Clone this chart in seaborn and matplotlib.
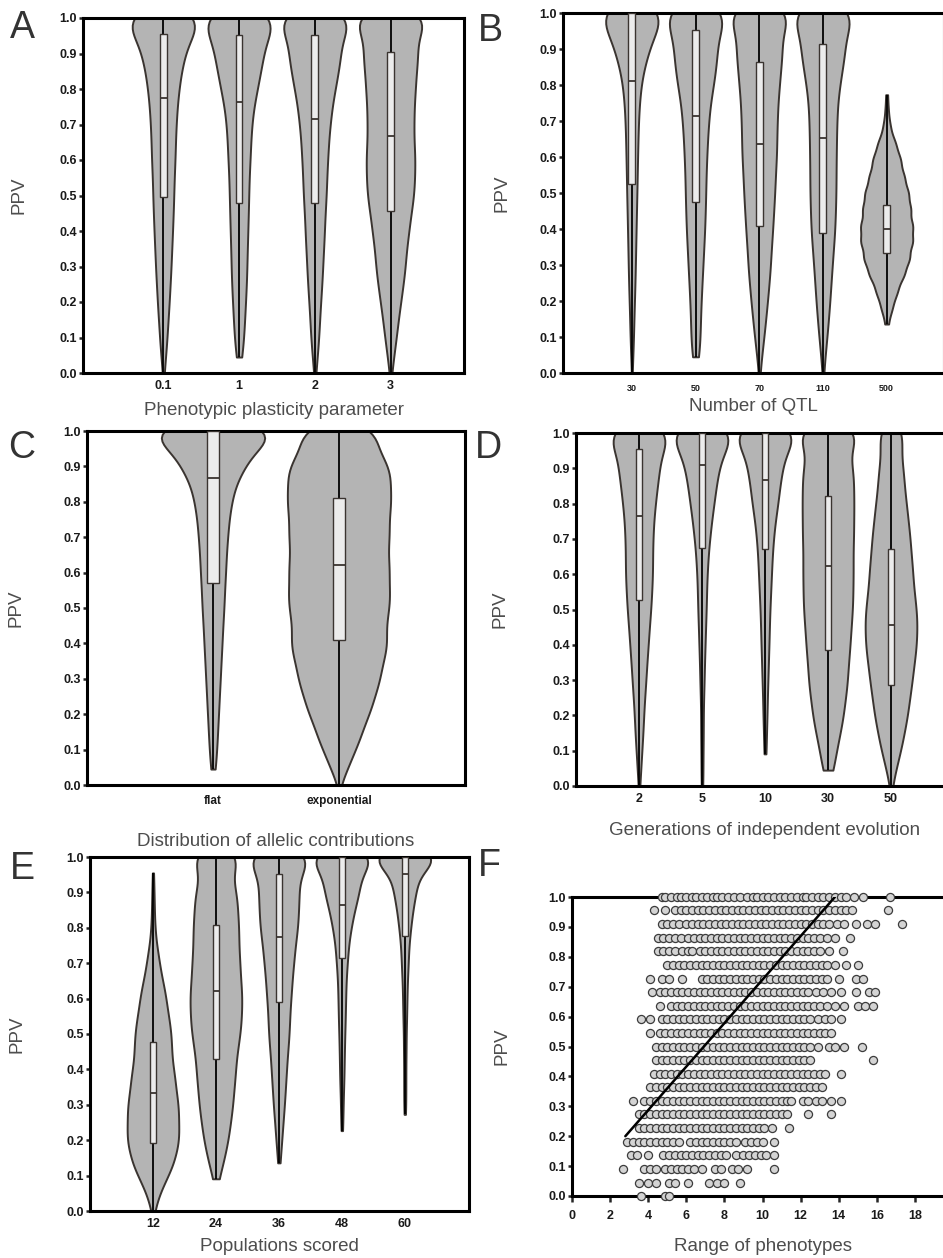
import matplotlib

matplotlib.use('Agg')
import matplotlib.pyplot as plt
import numpy as np
import pandas as pd
import seaborn as sns

FIG_W, FIG_H = 943, 1258

# PPV takes values k/22 (k = 0..22); counts below are read per level, bottom to top
PPV_LEVELS = [0.000, 0.045, 0.091, 0.136, 0.182, 0.227, 0.273, 0.318, 0.364, 0.409, 0.455, 0.500,
              0.545, 0.591, 0.636, 0.682, 0.727, 0.773, 0.818, 0.864, 0.909, 0.955, 1.000]
PPV_TICKS = [0.0, 0.1, 0.2, 0.3, 0.4, 0.5, 0.6, 0.7, 0.8, 0.9, 1.0]

# A - phenotypic plasticity
plasticity_groups = ['0.1', '1', '2', '3']
plasticity_counts = [
    [2, 7, 11, 13, 17, 19, 22, 24, 26, 28, 30, 31, 32, 35, 36, 37, 40, 43, 49, 56, 68, 79, 156],
    [0, 10, 14, 17, 19, 22, 24, 25, 26, 28, 29, 30, 31, 34, 36, 38, 42, 50, 62, 70, 80, 83, 156],
    [3, 8, 12, 15, 17, 21, 24, 26, 29, 31, 33, 36, 38, 40, 43, 46, 52, 58, 69, 78, 85, 81, 155],
    [3, 10, 16, 22, 28, 35, 42, 46, 50, 57, 63, 70, 73, 75, 72, 70, 71, 73, 76, 80, 85, 75, 143],
]
plasticity_q1 = [0.495, 0.478, 0.478, 0.455]
plasticity_median = [0.775, 0.763, 0.715, 0.668]
plasticity_q3 = [0.955, 0.953, 0.953, 0.905]

# B - number of QTL
qtl_groups = ['30', '50', '70', '110', '500']
qtl_counts = [
    [1, 3, 5, 6, 7, 9, 10, 11, 12, 13, 14, 15, 16, 17, 18, 19, 21, 24, 29, 40, 57, 65, 136],
    [0, 12, 14, 15, 16, 19, 21, 24, 26, 29, 30, 31, 32, 34, 36, 39, 42, 49, 59, 65, 68, 66, 131],
    [2, 8, 14, 20, 25, 30, 35, 38, 41, 45, 48, 50, 53, 56, 58, 58, 60, 63, 68, 73, 78, 68, 134],
    [2, 7, 12, 17, 21, 25, 28, 32, 36, 40, 41, 42, 43, 43, 44, 45, 46, 50, 58, 68, 75, 70, 136],
    [0, 0, 0, 5, 17, 32, 52, 68, 77, 77, 71, 64, 52, 42, 27, 11, 5, 3, 0, 0, 0, 0, 0],
]
qtl_q1 = [0.525, 0.476, 0.408, 0.390, 0.332]
qtl_median = [0.810, 0.714, 0.636, 0.652, 0.399]
qtl_q3 = [1.000, 0.954, 0.864, 0.914, 0.467]

# C - distribution of allelic contributions
allelic_groups = ['flat', 'exponential']
allelic_counts = [
    [0, 8, 11, 14, 16, 19, 21, 24, 26, 29, 31, 34, 36, 39, 41, 44, 48, 53, 62, 75, 110, 128, 262],
    [3, 25, 44, 64, 80, 99, 113, 124, 135, 143, 138, 146, 150, 148, 146, 146, 148, 150, 153, 153, 143, 110, 115],
]
allelic_q1 = [0.572, 0.411]
allelic_median = [0.866, 0.621]
allelic_q3 = [1.000, 0.811]

# D - generations of independent evolution
generation_groups = ['2', '5', '10', '30', '50']
generation_counts = [
    [2, 6, 8, 12, 14, 16, 20, 23, 26, 30, 33, 37, 40, 43, 43, 43, 45, 48, 54, 60, 67, 67, 131],
    [3, 3, 3, 4, 4, 4, 6, 7, 8, 10, 11, 13, 14, 15, 18, 21, 27, 32, 40, 45, 55, 64, 131],
    [0, 0, 4, 4, 6, 7, 8, 10, 11, 13, 14, 15, 18, 20, 22, 25, 29, 36, 44, 48, 58, 64, 133],
    [0, 17, 22, 32, 42, 47, 54, 57, 60, 64, 67, 69, 72, 72, 72, 72, 74, 74, 74, 74, 72, 50, 120],
    [3, 14, 26, 36, 45, 52, 58, 64, 70, 75, 77, 73, 68, 64, 61, 57, 53, 48, 42, 38, 35, 25, 45],
]
generation_q1 = [0.526, 0.675, 0.670, 0.384, 0.287]
generation_median = [0.764, 0.910, 0.868, 0.622, 0.455]
generation_q3 = [0.956, 1.000, 1.000, 0.822, 0.670]

# E - populations scored
population_groups = ['12', '24', '36', '48', '60']
population_counts = [
    [4, 18, 40, 62, 74, 77, 76, 72, 66, 59, 55, 53, 47, 40, 32, 22, 15, 8, 5, 4, 3, 2, 0],
    [0, 0, 8, 22, 32, 40, 46, 51, 55, 58, 63, 70, 75, 77, 74, 71, 68, 67, 66, 63, 60, 39, 87],
    [0, 0, 0, 4, 8, 12, 16, 20, 23, 26, 30, 34, 36, 39, 43, 47, 52, 58, 65, 66, 68, 66, 131],
    [0, 0, 0, 0, 0, 3, 4, 5, 7, 8, 9, 10, 12, 13, 14, 17, 21, 26, 36, 48, 63, 66, 131],
    [0, 0, 0, 0, 0, 0, 3, 4, 4, 4, 5, 5, 7, 8, 9, 12, 14, 18, 25, 33, 44, 55, 150],
]
population_q1 = [0.191, 0.429, 0.591, 0.716, 0.776]
population_median = [0.333, 0.621, 0.774, 0.865, 0.953]
population_q3 = [0.478, 0.809, 0.953, 1.000, 1.000]

# F - range of phenotypes vs PPV, one list of x values per PPV row
range_ppv = [1.000, 0.955, 0.909, 0.864, 0.818, 0.773, 0.727, 0.682, 0.636, 0.591, 0.545, 0.500,
             0.455, 0.409, 0.364, 0.318, 0.273, 0.227, 0.182, 0.136, 0.091, 0.045, 0.000]
range_rows = [
    [4.7, 4.9, 5.2, 5.5, 5.7, 6.0, 6.3, 6.5, 6.8, 7.1, 7.4, 7.6, 7.9, 8.2, 8.5, 8.8, 9.2, 9.5, 9.7, 10.0,
     10.3, 10.6, 10.9, 11.2, 11.5, 11.8, 12.1, 12.3, 12.6, 12.9, 13.2, 13.5, 13.8, 14.1, 14.4, 14.8, 15.3, 16.7],
    [4.3, 4.9, 5.4, 5.7, 6.0, 6.3, 6.6, 6.9, 7.2, 7.5, 7.8, 8.1, 8.4, 8.7, 9.0, 9.3, 9.6, 9.9, 10.2, 10.5,
     10.8, 11.1, 11.4, 11.7, 12.0, 12.3, 12.6, 12.9, 13.2, 13.5, 13.8, 14.1, 14.4, 14.7, 16.6],
    [4.7, 5.0, 5.3, 5.6, 6.0, 6.3, 6.6, 6.9, 7.2, 7.5, 7.8, 8.1, 8.4, 8.7, 9.0, 9.3, 9.6, 9.9, 10.2, 10.5,
     10.8, 11.1, 11.4, 11.7, 12.0, 12.3, 12.6, 12.9, 13.2, 13.5, 13.9, 14.3, 14.9, 15.5, 15.9, 17.3],
    [4.5, 4.8, 5.1, 5.4, 5.7, 6.1, 6.4, 6.7, 7.0, 7.3, 7.6, 7.9, 8.2, 8.5, 8.8, 9.1, 9.4, 9.7, 10.0, 10.3,
     10.6, 10.9, 11.2, 11.5, 11.8, 12.1, 12.4, 12.7, 13.0, 13.4, 13.8, 14.6],
    [4.5, 4.8, 5.1, 5.4, 5.8, 6.1, 6.3, 6.7, 7.0, 7.3, 7.6, 7.9, 8.2, 8.5, 8.8, 9.1, 9.4, 9.7, 10.0, 10.3,
     10.6, 10.9, 11.2, 11.5, 11.8, 12.1, 12.4, 12.7, 13.0, 13.5, 14.2],
    [5.0, 5.3, 5.6, 5.9, 6.2, 6.5, 6.8, 7.1, 7.4, 7.7, 8.0, 8.3, 8.6, 8.9, 9.2, 9.5, 9.8, 10.1, 10.4, 10.7,
     11.0, 11.3, 11.6, 11.9, 12.2, 12.5, 12.8, 13.1, 13.4, 13.8, 14.4, 15.0],
    [4.1, 4.7, 5.1, 5.8, 6.8, 7.1, 7.4, 7.7, 8.0, 8.3, 8.6, 8.9, 9.2, 9.5, 9.8, 10.1, 10.4, 10.7, 11.0, 11.3,
     11.6, 11.9, 12.2, 12.5, 12.8, 13.1, 13.4, 14.0, 14.9, 15.3],
    [4.2, 4.6, 4.9, 5.2, 5.5, 5.8, 6.1, 6.4, 6.7, 7.0, 7.3, 7.6, 7.9, 8.2, 8.5, 8.8, 9.1, 9.4, 9.7, 10.0,
     10.3, 10.6, 10.9, 11.2, 11.5, 11.8, 12.1, 12.4, 12.8, 13.2, 13.6, 14.1, 14.9, 15.6, 15.9],
    [4.6, 5.2, 5.5, 5.8, 6.1, 6.4, 6.7, 7.0, 7.3, 7.6, 7.9, 8.2, 8.5, 8.8, 9.1, 9.4, 9.7, 10.0, 10.3, 10.6,
     10.9, 11.2, 11.5, 11.8, 12.1, 12.4, 12.7, 13.0, 13.4, 13.8, 14.3, 15.0, 15.4, 15.8],
    [3.6, 4.1, 4.7, 5.0, 5.3, 5.6, 5.9, 6.2, 6.5, 6.8, 7.1, 7.4, 7.7, 8.0, 8.3, 8.6, 8.9, 9.2, 9.5, 9.8,
     10.1, 10.4, 10.7, 11.0, 11.3, 11.6, 11.9, 12.2, 12.5, 12.9, 13.3, 13.6, 14.1],
    [4.1, 4.6, 4.9, 5.2, 5.5, 5.8, 6.1, 6.4, 6.7, 7.0, 7.3, 7.6, 7.9, 8.2, 8.5, 8.8, 9.1, 9.4, 9.7, 10.0,
     10.3, 10.6, 10.9, 11.2, 11.5, 11.8, 12.1, 12.4, 12.7, 13.0, 13.3, 13.6],
    [4.4, 4.7, 5.0, 5.3, 5.6, 5.9, 6.2, 6.5, 6.8, 7.1, 7.4, 7.7, 8.0, 8.3, 8.6, 8.9, 9.2, 9.5, 9.8, 10.1,
     10.4, 10.7, 11.0, 11.3, 11.6, 11.9, 12.2, 12.5, 12.9, 13.5, 13.8, 14.3, 15.2],
    [4.4, 4.7, 5.0, 5.3, 5.6, 5.9, 6.2, 6.5, 6.8, 7.1, 7.4, 7.7, 8.0, 8.3, 8.6, 8.9, 9.2, 9.5, 9.8, 10.1,
     10.4, 10.7, 11.0, 11.3, 11.6, 11.9, 12.2, 12.5, 15.8],
    [4.3, 4.6, 4.9, 5.2, 5.5, 5.8, 6.1, 6.4, 6.7, 7.0, 7.3, 7.6, 7.9, 8.2, 8.5, 8.8, 9.1, 9.4, 9.7, 10.0,
     10.3, 10.6, 10.9, 11.2, 11.5, 11.8, 12.1, 12.4, 12.7, 13.0, 13.3, 14.1],
    [4.1, 4.4, 4.7, 5.0, 5.3, 5.6, 5.9, 6.2, 6.5, 6.8, 7.1, 7.4, 7.7, 8.0, 8.3, 8.6, 8.9, 9.2, 9.5, 9.8,
     10.1, 10.4, 10.7, 11.0, 11.3, 11.6, 11.9, 12.2, 12.5, 12.8, 13.1],
    [3.2, 3.8, 4.1, 4.4, 4.7, 5.0, 5.3, 5.6, 5.9, 6.2, 6.5, 6.8, 7.1, 7.4, 7.7, 8.0, 8.3, 8.6, 8.9, 9.2,
     9.5, 9.8, 10.1, 10.4, 10.7, 11.0, 11.3, 11.5, 12.1, 12.4, 12.8, 13.1, 13.6, 14.1],
    [3.5, 3.8, 4.1, 4.4, 4.7, 5.0, 5.3, 5.6, 5.9, 6.2, 6.5, 6.8, 7.1, 7.4, 7.7, 8.0, 8.3, 8.6, 8.9, 9.2,
     9.5, 9.8, 10.1, 10.4, 10.7, 11.0, 11.3, 12.4, 13.6],
    [3.5, 3.8, 4.1, 4.4, 4.7, 5.0, 5.3, 5.6, 5.9, 6.2, 6.5, 6.8, 7.1, 7.4, 7.7, 8.0, 8.3, 8.6, 8.9, 9.2,
     9.5, 9.8, 10.1, 10.5, 11.4],
    [2.9, 3.2, 3.5, 3.8, 4.1, 4.4, 4.7, 5.0, 5.3, 5.6, 6.2, 6.5, 6.8, 7.1, 7.4, 7.7, 8.0, 8.3, 8.6, 9.1,
     9.4, 9.7, 10.0, 10.6],
    [3.1, 3.4, 4.0, 4.8, 5.1, 5.4, 5.7, 6.0, 6.3, 6.6, 6.9, 7.2, 7.5, 7.8, 8.1, 8.6, 9.0, 9.3, 9.6, 9.9,
     10.2, 10.6],
    [2.7, 3.8, 4.1, 4.4, 4.9, 5.2, 5.5, 5.8, 6.1, 6.4, 6.8, 7.5, 7.8, 8.4, 8.7, 9.2, 10.6],
    [3.5, 4.0, 4.4, 5.1, 5.4, 6.1, 7.2, 7.6, 8.0, 8.8],
    [3.6, 4.9, 5.1],
]
fit_range = [2.8, 13.8]
fit_ppv = [0.20, 1.00]

VIOLIN_FILL = '#b4b4b4'
EDGE = '#3a3430'
BOX_FILL = '#ececec'
LABEL_COLOR = '#4d4d4d'


def expand(groups, counts):
    frames = [pd.DataFrame({'group': g, 'ppv': np.repeat(PPV_LEVELS, c)}) for g, c in zip(groups, counts)]
    return pd.concat(frames, ignore_index=True)


def px_axes(fig, left, top, right, bottom):
    return fig.add_axes([left / FIG_W, 1 - bottom / FIG_H, (right - left) / FIG_W, (bottom - top) / FIG_H])


def style_axes(ax, width_px, height_px, xlabel, ylab_dx, xlab_dy):
    for spine in ax.spines.values():
        spine.set_visible(True)
        spine.set_linewidth(2.2)
        spine.set_color('black')
    ax.set_ylim(0, 1)
    ax.set_yticks(PPV_TICKS)
    ax.set_yticklabels([f'{t:.1f}' for t in PPV_TICKS], fontweight='bold', fontsize=9, color='#1a1a1a')
    ax.tick_params(axis='y', length=3, width=1.8, pad=1.5, direction='out')
    ax.set_ylabel('PPV', fontsize=13.5, color=LABEL_COLOR)
    ax.yaxis.set_label_coords(-ylab_dx / width_px, 0.5)
    ax.set_xlabel(xlabel, fontsize=13.5, color=LABEL_COLOR)
    ax.xaxis.set_label_coords(0.5, -xlab_dy / height_px)


def draw_violins(ax, groups, counts, q1, med, q3, box_w, xlim, tick_size, tick_pad):
    df = expand(groups, counts)
    sns.violinplot(data=df, x='group', y='ppv', order=groups, color=VIOLIN_FILL, saturation=1,
                   inner=None, cut=0, width=0.82, density_norm='width', bw_adjust=0.65,
                   linewidth=1.4, linecolor=EDGE, ax=ax)
    stats = df.groupby('group')['ppv'].agg(['min', 'max']).reindex(groups)
    pos = np.arange(len(groups))
    ax.vlines(pos, stats['min'], stats['max'], color='black', lw=1.3, zorder=3)
    ax.bar(pos, np.subtract(q3, q1), bottom=q1, width=box_w, color=BOX_FILL,
           edgecolor=EDGE, linewidth=1.0, zorder=4)
    ax.hlines(med, pos - box_w / 2, pos + box_w / 2, color=EDGE, lw=1.3, zorder=5)
    ax.set_xlim(*xlim)
    ax.set_xticks(pos)
    ax.set_xticklabels(groups, fontweight='bold', fontsize=tick_size, color='#1a1a1a')
    ax.tick_params(axis='x', length=0, pad=tick_pad)


sns.set_style('ticks')
plt.rcParams['font.family'] = ['Liberation Sans', 'DejaVu Sans']

fig = plt.figure(figsize=(FIG_W / 100, FIG_H / 100), dpi=100)

# A
ax = px_axes(fig, 83, 18, 464, 373)
draw_violins(ax, plasticity_groups, plasticity_counts, plasticity_q1, plasticity_median, plasticity_q3,
             0.09, (-1.06, 3.97), 9, 5)
style_axes(ax, 381, 355, 'Phenotypic plasticity parameter', 55, 29)

# B
ax = px_axes(fig, 563, 13, 944, 373)
draw_violins(ax, qtl_groups, qtl_counts, qtl_q1, qtl_median, qtl_q3,
             0.11, (-1.08, 4.9), 6.5, 8)
style_axes(ax, 381, 360, 'Number of QTL', 53, 25)

# C
ax = px_axes(fig, 87, 431, 465, 785)
draw_violins(ax, allelic_groups, allelic_counts, allelic_q1, allelic_median, allelic_q3,
             0.095, (-1.0, 2.0), 8.5, 7)
style_axes(ax, 378, 354, 'Distribution of allelic contributions', 62, 48)

# D
ax = px_axes(fig, 576, 433, 954, 786)
draw_violins(ax, generation_groups, generation_counts, generation_q1, generation_median, generation_q3,
             0.1, (-1.0, 5.0), 9, 5)
style_axes(ax, 378, 353, 'Generations of independent evolution', 67, 36)

# E
ax = px_axes(fig, 90, 857, 469, 1211)
draw_violins(ax, population_groups, population_counts, population_q1, population_median, population_q3,
             0.1, (-1.0, 5.02), 9, 5)
style_axes(ax, 379, 354, 'Populations scored', 65, 27)

# F
ax = px_axes(fig, 572, 897, 953, 1196)
scatter_df = pd.DataFrame({
    'range': np.concatenate(range_rows),
    'ppv': np.repeat(range_ppv, [len(r) for r in range_rows]),
})
sns.scatterplot(data=scatter_df, x='range', y='ppv', s=34, color='#d4d4d4', edgecolor='#3c3c3c',
                linewidth=0.9, clip_on=False, zorder=3, ax=ax)
ax.plot(fit_range, fit_ppv, color='black', lw=1.8, zorder=4)
ax.set_xlim(0, 20)
ax.set_xticks([0, 2, 4, 6, 8, 10, 12, 14, 16, 18])
ax.set_xticklabels(['0', '2', '4', '6', '8', '10', '12', '14', '16', '18'],
                   fontweight='bold', fontsize=9, color='#1a1a1a')
ax.tick_params(axis='x', length=4, width=1.8, pad=6, direction='out')
style_axes(ax, 381, 299, 'Range of phenotypes', 62, 42)

letters = [('A', 10, 10), ('B', 478, 13), ('C', 8, 430), ('D', 475, 430), ('E', 10, 851), ('F', 478, 848)]
for letter, x, y in letters:
    fig.text(x / FIG_W, 1 - y / FIG_H, letter, fontsize=27, color='#333333', ha='left', va='top')

fig.savefig('out.png', dpi=100)
